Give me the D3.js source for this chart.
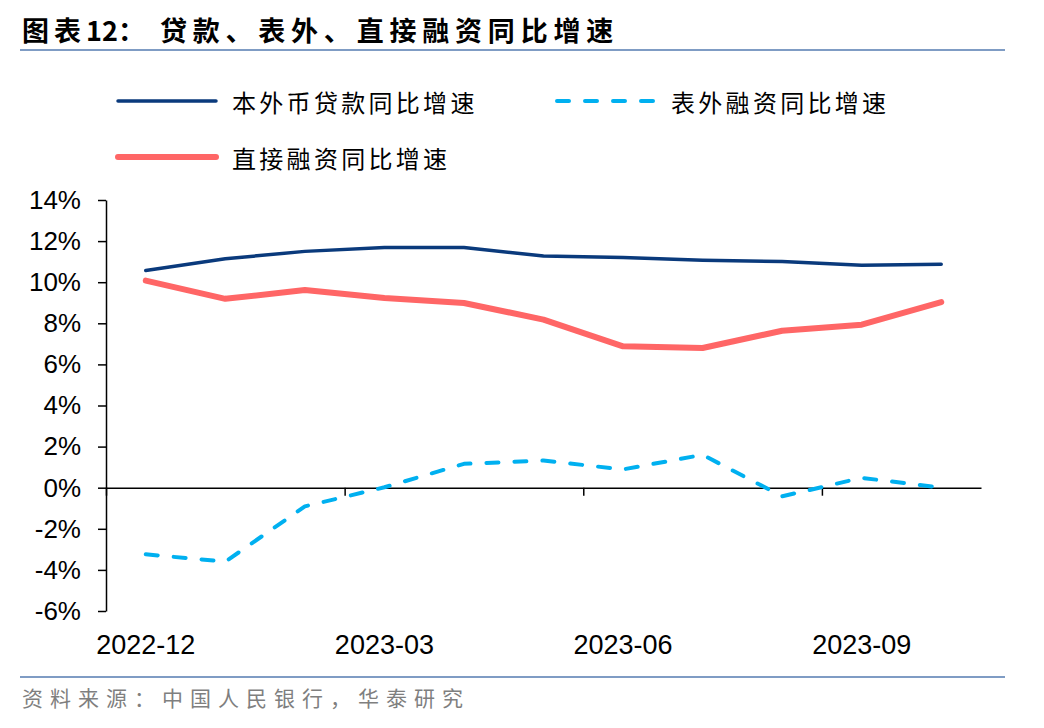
<!DOCTYPE html>
<html>
<head>
<meta charset="utf-8">
<script src="https://cdn.jsdelivr.net/npm/d3@7.9.0/dist/d3.min.js"></script>
<style>
  body { margin: 0; background: #fff; }
  svg { display: block; }
</style>
</head>
<body>
<div id="chart"></div>
<script>
// months shown on the category axis
const months = ['2022-12', '2023-01', '2023-02', '2023-03', '2023-04', '2023-05',
  '2023-06', '2023-07', '2023-08', '2023-09', '2023-10'];

// year-on-year growth, %
const loanGrowth = [10.57, 11.14, 11.5, 11.69, 11.69, 11.27, 11.2, 11.07, 11.01, 10.83, 10.87];
const offBalanceGrowth = [-3.24, -3.6, -0.91, 0.02, 1.16, 1.32, 0.89, 1.6, -0.42, 0.48, 0.0];
const directGrowth = [10.08, 9.19, 9.62, 9.23, 8.99, 8.18, 6.88, 6.8, 7.64, 7.93, 9.03];

const yTicks = [-6, -4, -2, 0, 2, 4, 6, 8, 10, 12, 14];
const xLabels = ['2022-12', '2023-03', '2023-06', '2023-09'];

const seriesNames = ['本外币贷款同比增速', '表外融资同比增速', '直接融资同比增速'];

const width = 1044;
const height = 728;
const cjk = '"Noto Sans CJK SC", "Noto Sans", sans-serif';
const latin = '"Liberation Sans", Arial, sans-serif';

const svg = d3.select('#chart')
  .append('svg')
  .attr('width', width)
  .attr('height', height);

// title + rules
const title = svg.append('text')
  .attr('x', 22)
  .attr('y', 29)
  .attr('dominant-baseline', 'central')
  .style('font-family', cjk)
  .style('font-weight', 'bold')
  .style('font-size', '27px')
  .attr('fill', '#000');
title.append('tspan').style('letter-spacing', '5px').text('图表');
title.append('tspan').style('letter-spacing', '0px').text('12');
title.append('tspan').style('letter-spacing', '5px').text('：');
title.append('tspan').attr('dx', 10).style('letter-spacing', '5.8px').text('贷款、表外、直接融资同比增速');

[50, 677].forEach((yy) => {
  svg.append('line')
    .attr('x1', 20).attr('x2', 1005)
    .attr('y1', yy).attr('y2', yy)
    .attr('stroke', '#7f9cc4')
    .attr('stroke-width', 2);
});

svg.append('text')
  .attr('x', 22)
  .attr('y', 697)
  .attr('dominant-baseline', 'central')
  .style('font-family', cjk)
  .style('font-size', '21px')
  .style('letter-spacing', '7px')
  .attr('fill', '#7f7f7f')
  .text('资料来源：中国人民银行，华泰研究');

// scales
const plot = { left: 106, right: 981, top: 200, bottom: 611 };

const xScale = d3.scaleBand()
  .domain(months)
  .range([plot.left, plot.right])
  .padding(0);

const xBound = d3.scaleLinear()
  .domain([0, months.length])
  .range([plot.left, plot.right]);

const yScale = d3.scaleLinear()
  .domain([-6, 14])
  .range([plot.bottom, plot.top]);

const cx = (i) => xScale(months[i]) + xScale.bandwidth() / 2;

// y axis
const yAxis = svg.append('g')
  .attr('transform', `translate(${plot.left}, 0)`)
  .call(d3.axisLeft(yScale)
    .tickValues(yTicks)
    .tickSize(8)
    .tickSizeOuter(0)
    .tickPadding(17)
    .tickFormat((d) => d + '%'));
yAxis.selectAll('path, line').attr('stroke', '#000').attr('stroke-width', 1.5);
yAxis.selectAll('text')
  .style('font-family', latin)
  .style('font-size', '26px')
  .attr('fill', '#000');

// x axis line at zero with ticks on quarter boundaries
const xAxis = svg.append('g')
  .attr('transform', `translate(0, ${yScale(0)})`)
  .call(d3.axisBottom(xBound)
    .tickValues([0, 3, 6, 9])
    .tickSize(8)
    .tickSizeOuter(0)
    .tickFormat(''));
xAxis.selectAll('path, line').attr('stroke', '#000').attr('stroke-width', 1.5);

// x labels below the plot
const xLab = svg.append('g')
  .attr('transform', `translate(0, ${plot.bottom})`)
  .call(d3.axisBottom(xScale)
    .tickValues(xLabels)
    .tickSize(0)
    .tickPadding(24));
xLab.select('.domain').remove();
xLab.selectAll('text')
  .style('font-family', latin)
  .style('font-size', '27px')
  .attr('fill', '#000');

// lines
const line = d3.line()
  .x((d, i) => cx(i))
  .y((d) => yScale(d));

const series = [
  { name: seriesNames[0], values: loanGrowth, color: '#0a3a7c', w: 3.5, dash: null },
  { name: seriesNames[1], values: offBalanceGrowth, color: '#00b0f0', w: 4, dash: '12,16' },
  { name: seriesNames[2], values: directGrowth, color: '#ff6666', w: 6, dash: null },
];

svg.append('g')
  .selectAll('path')
  .data(series)
  .join('path')
  .attr('d', (d) => line(d.values))
  .attr('fill', 'none')
  .attr('stroke', (d) => d.color)
  .attr('stroke-width', (d) => d.w)
  .attr('stroke-linecap', 'round')
  .attr('stroke-linejoin', 'round')
  .attr('stroke-dasharray', (d) => d.dash);

// legend
const legendPos = [
  { x: 116, y: 101 },
  { x: 555, y: 101 },
  { x: 116, y: 157 },
];

const legend = svg.append('g')
  .selectAll('g')
  .data(series)
  .join('g')
  .attr('transform', (d, i) => `translate(${legendPos[i].x}, ${legendPos[i].y})`);

legend.append('line')
  .attr('x1', 2).attr('x2', 100)
  .attr('y1', 0).attr('y2', 0)
  .attr('stroke', (d) => d.color)
  .attr('stroke-width', (d) => d.w)
  .attr('stroke-linecap', 'round')
  .attr('stroke-dasharray', (d) => d.dash ? '12,16' : null);

legend.append('text')
  .attr('x', 116)
  .attr('y', 0)
  .attr('dominant-baseline', 'central')
  .style('font-family', cjk)
  .style('font-size', '24px')
  .style('letter-spacing', '3.3px')
  .attr('fill', '#000')
  .text((d) => d.name);
</script>
</body>
</html>
